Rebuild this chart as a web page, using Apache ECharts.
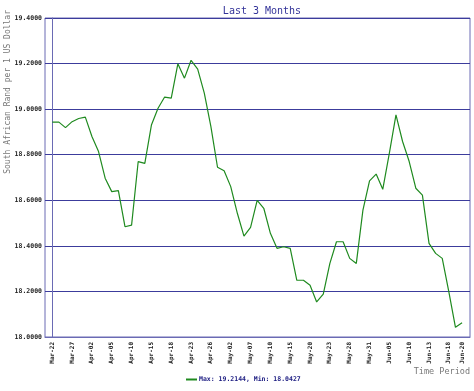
<!DOCTYPE html>
<html>
<head>
<meta charset="utf-8">
<script src="https://cdn.jsdelivr.net/npm/echarts@6/dist/echarts.min.js"></script>
<style>
html,body{margin:0;padding:0;background:#fff;}
#c{width:474px;height:391px;}
</style>
</head>
<body>
<div id="c"></div>
<script>
const dates = ["Mar-22","Mar-25","Mar-26","Mar-27","Mar-28","Apr-01","Apr-02","Apr-03","Apr-04","Apr-05",
"Apr-08","Apr-09","Apr-10","Apr-11","Apr-12","Apr-15","Apr-16","Apr-17","Apr-18","Apr-19",
"Apr-22","Apr-23","Apr-24","Apr-25","Apr-26","Apr-29","Apr-30","May-02","May-03","May-06",
"May-07","May-08","May-09","May-10","May-13","May-14","May-15","May-16","May-17","May-20",
"May-21","May-22","May-23","May-24","May-27","May-28","May-29","May-30","May-31","Jun-03",
"Jun-04","Jun-05","Jun-06","Jun-07","Jun-10","Jun-11","Jun-12","Jun-13","Jun-14","Jun-17",
"Jun-18","Jun-19","Jun-20"];
const rates = [18.943,18.943,18.919,18.945,18.959,18.965,18.880,18.814,18.697,18.638,
18.642,18.484,18.491,18.770,18.762,18.930,19.004,19.053,19.048,19.199,
19.136,19.2144,19.176,19.070,18.923,18.745,18.730,18.660,18.543,18.443,
18.481,18.600,18.565,18.455,18.389,18.396,18.389,18.249,18.249,18.227,
18.154,18.188,18.323,18.418,18.418,18.345,18.323,18.557,18.685,18.715,
18.648,18.807,18.975,18.858,18.770,18.653,18.623,18.411,18.367,18.345,
18.198,18.0427,18.062];
const labelIdx = [0,3,6,9,12,15,18,21,24,27,30,33,36,39,42,45,48,51,54,57,60,62];
const yTicks = [18.0,18.2,18.4,18.6,18.8,19.0,19.2,19.4];

const maxV = Math.max(...rates), minV = Math.min(...rates);
const seriesName = 'Max: ' + maxV.toFixed(4) + ', Min: ' + minV.toFixed(4);
const mono = '"DejaVu Sans Mono", monospace';

const chart = echarts.init(document.getElementById('c'), null, {renderer:'canvas'});
chart.setOption({
  animation:false,
  backgroundColor:'#ffffff',
  title:{
    text:'Last 3 Months', left:257, top:1, textAlign:'center',
    textStyle:{fontFamily:mono, fontSize:10, fontWeight:'normal', color:'#333399'}
  },
  legend:{
    bottom:3, left:181, itemWidth:11, itemHeight:2, itemGap:2,
    icon:'rect',
    textStyle:{fontFamily:mono, fontSize:6.5, fontWeight:'bold', color:'#1a1a80', padding:[0,0,0,-3]},
    data:[seriesName]
  },
  graphic:[
    {type:'text', left:4, top:10, rotation:Math.PI/2, style:{text:'South African Rand per 1 US Dollar', font:'8px '+mono, fill:'#777777'}},
    {type:'text', right:4, top:367, style:{text:'Time Period', font:'8.5px '+mono, fill:'#777777'}}
  ],
  grid:{left:45, right:4, top:18, bottom:54, show:true, borderColor:'#6a6ab4', borderWidth:1, backgroundColor:'#ffffff'},
  xAxis:{
    type:'value', min:-1.1, max:63.2,
    axisLine:{show:true, lineStyle:{color:'#6a6ab4', width:1}},
    axisTick:{show:false},
    splitLine:{show:false},
    axisLabel:{
      customValues:labelIdx, rotate:90, margin:5,
      fontFamily:mono, fontSize:6, fontWeight:'bold', color:'#222',
      formatter:function(v){return dates[Math.round(v)];}
    }
  },
  yAxis:{
    type:'value', min:18, max:19.4, interval:0.2,
    axisLine:{show:true, lineStyle:{color:'#6a6ab4', width:1}},
    axisTick:{show:false},
    splitLine:{show:true, lineStyle:{color:'#3c3c9c', width:1}},
    axisLabel:{
      margin:3, fontFamily:mono, fontSize:6.5, fontWeight:'bold', color:'#222',
      formatter:function(v){return v.toFixed(4);}
    }
  },
  series:[{
    name:seriesName, type:'line', symbol:'none',
    data:rates.map((v,i)=>[i,v]),
    lineStyle:{color:'#1f8a1f', width:1.2},
    itemStyle:{color:'#1f8a1f'}
  }]
});
</script>
</body>
</html>
